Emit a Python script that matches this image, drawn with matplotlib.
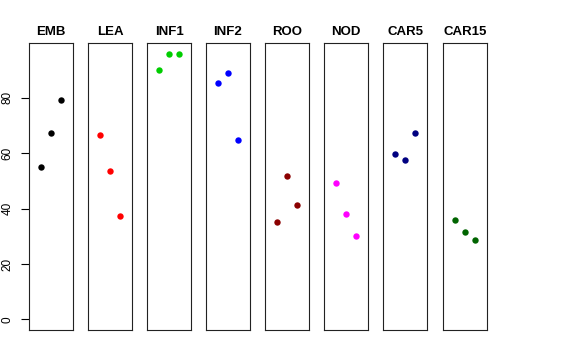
import matplotlib
matplotlib.use("Agg")
import matplotlib.pyplot as plt

tissues = ["EMB", "LEA", "INF1", "INF2", "ROO", "NOD", "CAR5", "CAR15"]
colors = ["black", "red", "#00CD00", "blue", "#8B0000", "magenta", "#000080", "#006400"]
values = [
    [54.9, 67.3, 79.4],
    [66.5, 53.5, 37.4],
    [90.1, 95.9, 96.0],
    [85.3, 89.1, 64.7],
    [35.1, 51.7, 41.2],
    [49.1, 38.0, 30.0],
    [59.7, 57.4, 67.5],
    [35.8, 31.7, 28.7],
]
xs = [1, 2, 3]
yticks = [0, 20, 40, 60, 80]

W, H = 576, 360
fig = plt.figure(figsize=(W / 100, H / 100), dpi=100)
lefts = [29, 88, 147, 206, 265, 324, 383, 443]
pw = 44
top_px, bot_px = 43, 330

ymin, ymax = 0, 96
yr = ymax - ymin
for i, (name, col, vals) in enumerate(zip(tissues, colors, values)):
    ax = fig.add_axes([lefts[i] / W, 1 - bot_px / H, pw / W, (bot_px - top_px) / H])
    ax.plot(xs, vals, "o", color=col, markersize=4.6, markeredgewidth=0)
    ax.set_xlim(-0.16, 4.16)
    ax.set_ylim(ymin - 0.04 * yr, ymax + 0.04 * yr)
    ax.set_xticks([])
    for s in ax.spines.values():
        s.set_linewidth(0.8)
        s.set_color("#222222")
    ax.set_title(name, fontsize=9.5, fontweight="bold", pad=6, family="Liberation Sans")
    if i == 0:
        ax.set_yticks(yticks)
        ax.set_yticklabels([str(t) for t in yticks], rotation=90, va="center",
                           fontsize=8.5, family="Liberation Sans")
        ax.tick_params(axis="y", length=6, width=0.8, pad=5)
    else:
        ax.set_yticks([])

fig.savefig("out.png", dpi=100)
